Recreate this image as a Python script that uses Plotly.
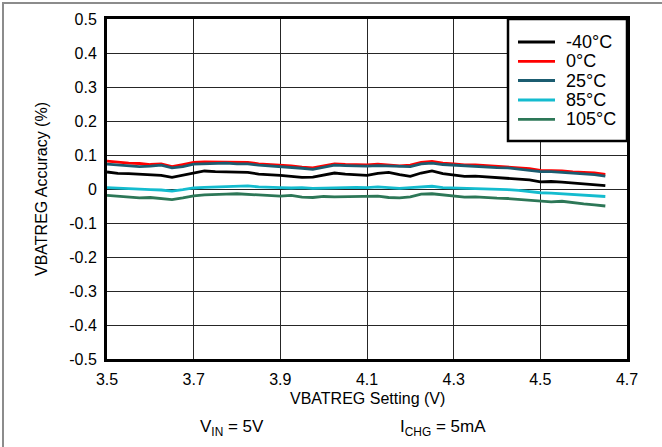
import plotly.graph_objects as go

# VBATREG setting sweep (V)
vbatreg_setting = [3.500, 3.525, 3.550, 3.575, 3.600, 3.625, 3.650, 3.675, 3.700, 3.725,
                   3.750, 3.775, 3.800, 3.825, 3.850, 3.875, 3.900, 3.925, 3.950, 3.975,
                   4.000, 4.025, 4.050, 4.075, 4.100, 4.125, 4.150, 4.175, 4.200, 4.225,
                   4.250, 4.275, 4.300, 4.325, 4.350, 4.375, 4.400, 4.425, 4.450, 4.475,
                   4.500, 4.525, 4.550, 4.575, 4.600, 4.625, 4.650]

acc_m40 = [0.050, 0.046, 0.045, 0.044, 0.043, 0.040, 0.034, 0.040, 0.048, 0.053,
           0.051, 0.050, 0.048, 0.049, 0.044, 0.043, 0.040, 0.037, 0.034, 0.035,
           0.041, 0.047, 0.044, 0.041, 0.040, 0.046, 0.049, 0.042, 0.037, 0.047,
           0.053, 0.045, 0.041, 0.037, 0.038, 0.036, 0.034, 0.032, 0.030, 0.027,
           0.021, 0.022, 0.020, 0.018, 0.016, 0.013, 0.010]

acc_0 = [0.082, 0.078, 0.076, 0.075, 0.072, 0.074, 0.066, 0.072, 0.078, 0.080,
         0.079, 0.080, 0.077, 0.078, 0.074, 0.072, 0.071, 0.068, 0.064, 0.062,
         0.068, 0.074, 0.072, 0.071, 0.071, 0.073, 0.071, 0.068, 0.070, 0.078,
         0.081, 0.076, 0.074, 0.071, 0.071, 0.069, 0.067, 0.066, 0.063, 0.060,
         0.055, 0.055, 0.053, 0.050, 0.049, 0.047, 0.043]

acc_25 = [0.073, 0.070, 0.068, 0.066, 0.067, 0.070, 0.062, 0.066, 0.073, 0.074,
          0.075, 0.076, 0.074, 0.074, 0.070, 0.068, 0.067, 0.065, 0.061, 0.058,
          0.064, 0.070, 0.069, 0.067, 0.067, 0.069, 0.068, 0.065, 0.066, 0.074,
          0.076, 0.072, 0.070, 0.067, 0.067, 0.065, 0.063, 0.062, 0.059, 0.056,
          0.051, 0.051, 0.049, 0.046, 0.045, 0.042, 0.038]

acc_85 = [0.004, 0.002, 0.001, -0.001, -0.002, -0.003, -0.006, -0.002, 0.003, 0.005,
          0.006, 0.006, 0.007, 0.009, 0.006, 0.004, 0.004, 0.003, 0.004, 0.002,
          0.003, 0.004, 0.004, 0.005, 0.004, 0.006, 0.004, 0.002, 0.004, 0.007,
          0.008, 0.004, 0.003, 0.004, 0.002, 0.001, 0.001, -0.002, -0.004, -0.008,
          -0.011, -0.012, -0.014, -0.016, -0.019, -0.021, -0.022]

acc_105 = [-0.019, -0.022, -0.024, -0.026, -0.025, -0.027, -0.031, -0.026, -0.020, -0.017,
           -0.017, -0.015, -0.014, -0.016, -0.018, -0.020, -0.021, -0.019, -0.024, -0.025,
           -0.022, -0.023, -0.022, -0.023, -0.020, -0.021, -0.025, -0.026, -0.023, -0.015,
           -0.014, -0.017, -0.020, -0.024, -0.023, -0.026, -0.027, -0.028, -0.031, -0.034,
           -0.037, -0.038, -0.036, -0.041, -0.044, -0.047, -0.050]

series_names = ["-40°C", "0°C", "25°C", "85°C", "105°C"]
series_values = [acc_m40, acc_0, acc_25, acc_85, acc_105]
series_colors = ["#000000", "#ff0000", "#1b5c70", "#14bccf", "#2d7757"]

x_tick_vals = [3.5, 3.7, 3.9, 4.1, 4.3, 4.5, 4.7]
x_tick_text = ["3.5", "3.7", "3.9", "4.1", "4.3", "4.5", "4.7"]
y_tick_vals = [0.5, 0.4, 0.3, 0.2, 0.1, 0, -0.1, -0.2, -0.3, -0.4, -0.5]
y_tick_text = ["0.5", "0.4", "0.3", "0.2", "0.1", "0", "-0.1", "-0.2", "-0.3", "-0.4", "-0.5"]

FONT = "Arial, Liberation Sans, sans-serif"

fig = go.Figure()
for name, vals, col in zip(series_names, series_values, series_colors):
    fig.add_trace(go.Scatter(x=vbatreg_setting, y=vals, mode="lines", name=name,
                             line=dict(color=col, width=2.8), showlegend=False))

# plot area in pixels: x 107..627, y 19..359
L, R, T, B = 107, 627, 19, 359
W, H = R - L, B - T
def px(x):
    return (x - L) / W
def py(y):
    return (B - y) / H

shapes = []
annotations = []

# outer gray border
shapes.append(dict(type="rect", xref="paper", yref="paper",
                   x0=px(3), x1=px(672), y0=py(458), y1=py(3),
                   line=dict(color="#8c8c8c", width=2), layer="below"))

# manual legend box
shapes.append(dict(type="rect", xref="paper", yref="paper",
                   x0=px(508), x1=1, y0=py(141), y1=1,
                   fillcolor="white", line=dict(color="black", width=2.5), layer="above"))
row_y = [42, 61.3, 80.5, 100, 119.3]
for name, col, ry in zip(series_names, series_colors, row_y):
    shapes.append(dict(type="line", xref="paper", yref="paper",
                       x0=px(518), x1=px(555), y0=py(ry), y1=py(ry),
                       line=dict(color=col, width=2.8), layer="above"))
    annotations.append(dict(xref="paper", yref="paper", x=px(564), y=py(ry),
                            text=name, showarrow=False, xanchor="left", yanchor="middle",
                            font=dict(family=FONT, size=18, color="black")))

# axis titles
annotations.append(dict(xref="paper", yref="paper", x=px(367), y=py(398),
                        text="VBATREG Setting (V)", showarrow=False,
                        xanchor="center", yanchor="middle",
                        font=dict(family=FONT, size=16, color="black")))
annotations.append(dict(xref="paper", yref="paper", x=px(41), y=py(189),
                        text="VBATREG Accuracy (%)", showarrow=False, textangle=-90,
                        xanchor="center", yanchor="middle",
                        font=dict(family=FONT, size=16, color="black")))
# conditions
annotations.append(dict(xref="paper", yref="paper", x=px(232), y=py(428),
                        text="V<sub>IN</sub> = 5V", showarrow=False,
                        xanchor="center", yanchor="middle",
                        font=dict(family=FONT, size=17, color="black")))
annotations.append(dict(xref="paper", yref="paper", x=px(443), y=py(428),
                        text="I<sub>CHG</sub> = 5mA", showarrow=False,
                        xanchor="center", yanchor="middle",
                        font=dict(family=FONT, size=17, color="black")))

fig.update_layout(
    width=662, height=447,
    margin=dict(l=L, r=662 - R, t=T, b=447 - B, pad=0),
    paper_bgcolor="white", plot_bgcolor="white",
    font=dict(family=FONT, size=16, color="black"),
    shapes=shapes, annotations=annotations,
    showlegend=False,
)
fig.update_xaxes(range=[3.5, 4.7], tickvals=x_tick_vals, ticktext=x_tick_text,
                 showgrid=True, gridcolor="#262626", gridwidth=1,
                 showline=True, linecolor="black", linewidth=3, mirror=True,
                 ticks="", ticklabelstandoff=4, zeroline=False,
                 tickfont=dict(family=FONT, size=16, color="black"))
fig.update_yaxes(range=[-0.5, 0.5], tickvals=y_tick_vals, ticktext=y_tick_text,
                 showgrid=True, gridcolor="#262626", gridwidth=1,
                 showline=True, linecolor="black", linewidth=3, mirror=True,
                 ticks="", ticklabelstandoff=4, zeroline=False,
                 tickfont=dict(family=FONT, size=16, color="black"))

fig.write_html("out.html", config={"displayModeBar": False},
               post_script="document.body.style.margin='0';document.body.style.overflow='hidden';")
